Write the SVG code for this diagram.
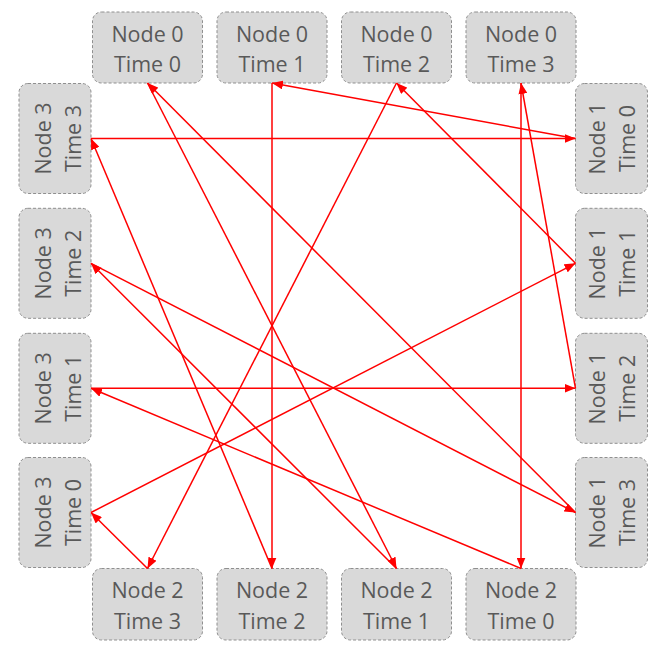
<svg xmlns="http://www.w3.org/2000/svg" width="667" height="669" viewBox="0 0 667 669">
<defs>
<marker id="ah" markerUnits="userSpaceOnUse" markerWidth="12" markerHeight="9" refX="11" refY="4.5" orient="auto">
<path d="M0,0 L11,4.5 L0,9 z" fill="#ff0000"/>
</marker>
<style>
.box{fill:#d9d9d9;stroke:#8f8f8f;stroke-width:1;stroke-dasharray:3 2}
.t{font-family:"Open Sans","Liberation Sans",sans-serif;font-size:21.5px;fill:#595959;text-anchor:middle}
.e{stroke:#ff0000;stroke-width:1.5;fill:none;marker-end:url(#ah)}
</style>
</defs>
<rect width="667" height="669" fill="#ffffff"/>
<g id="n0t0"><rect class="box" x="92.5" y="12" width="110" height="71" rx="9"/><text class="t" x="147.5" y="41.5">Node 0</text><text class="t" x="147.5" y="71.5">Time 0</text></g>
<g id="n0t1"><rect class="box" x="217" y="12" width="110" height="71" rx="9"/><text class="t" x="272" y="41.5">Node 0</text><text class="t" x="272" y="71.5">Time 1</text></g>
<g id="n0t2"><rect class="box" x="341.5" y="12" width="110" height="71" rx="9"/><text class="t" x="396.5" y="41.5">Node 0</text><text class="t" x="396.5" y="71.5">Time 2</text></g>
<g id="n0t3"><rect class="box" x="466" y="12" width="110" height="71" rx="9"/><text class="t" x="521" y="41.5">Node 0</text><text class="t" x="521" y="71.5">Time 3</text></g>
<g id="n2t3"><rect class="box" x="92.5" y="568.5" width="110" height="71.5" rx="9"/><text class="t" x="147.5" y="598">Node 2</text><text class="t" x="147.5" y="629">Time 3</text></g>
<g id="n2t2"><rect class="box" x="217" y="568.5" width="110" height="71.5" rx="9"/><text class="t" x="272" y="598">Node 2</text><text class="t" x="272" y="629">Time 2</text></g>
<g id="n2t1"><rect class="box" x="341.5" y="568.5" width="110" height="71.5" rx="9"/><text class="t" x="396.5" y="598">Node 2</text><text class="t" x="396.5" y="629">Time 1</text></g>
<g id="n2t0"><rect class="box" x="466" y="568.5" width="110" height="71.5" rx="9"/><text class="t" x="521" y="598">Node 2</text><text class="t" x="521" y="629">Time 0</text></g>
<g id="n3t3"><rect class="box" x="19" y="83.5" width="72" height="110" rx="9"/><text class="t" transform="translate(50.5,138.5) rotate(-90)">Node 3</text><text class="t" transform="translate(81,138.5) rotate(-90)">Time 3</text></g>
<g id="n3t2"><rect class="box" x="19" y="208.3" width="72" height="110" rx="9"/><text class="t" transform="translate(50.5,263.3) rotate(-90)">Node 3</text><text class="t" transform="translate(81,263.3) rotate(-90)">Time 2</text></g>
<g id="n3t1"><rect class="box" x="19" y="333.3" width="72" height="110" rx="9"/><text class="t" transform="translate(50.5,388.3) rotate(-90)">Node 3</text><text class="t" transform="translate(81,388.3) rotate(-90)">Time 1</text></g>
<g id="n3t0"><rect class="box" x="19" y="457.5" width="72" height="110" rx="9"/><text class="t" transform="translate(50.5,512.5) rotate(-90)">Node 3</text><text class="t" transform="translate(81,512.5) rotate(-90)">Time 0</text></g>
<g id="n1t0"><rect class="box" x="575.5" y="83.5" width="72" height="110" rx="9"/><text class="t" transform="translate(605,138.5) rotate(-90)">Node 1</text><text class="t" transform="translate(635,138.5) rotate(-90)">Time 0</text></g>
<g id="n1t1"><rect class="box" x="575.5" y="208.3" width="72" height="110" rx="9"/><text class="t" transform="translate(605,263.3) rotate(-90)">Node 1</text><text class="t" transform="translate(635,263.3) rotate(-90)">Time 1</text></g>
<g id="n1t2"><rect class="box" x="575.5" y="333.3" width="72" height="110" rx="9"/><text class="t" transform="translate(605,388.3) rotate(-90)">Node 1</text><text class="t" transform="translate(635,388.3) rotate(-90)">Time 2</text></g>
<g id="n1t3"><rect class="box" x="575.5" y="457.5" width="72" height="110" rx="9"/><text class="t" transform="translate(605,512.5) rotate(-90)">Node 1</text><text class="t" transform="translate(635,512.5) rotate(-90)">Time 3</text></g>
<g id="connectors">
<line class="e" x1="272" y1="83" x2="272" y2="568.5"/>
<line class="e" x1="272" y1="568.5" x2="91" y2="138.5"/>
<line class="e" x1="91" y1="138.5" x2="575.5" y2="138.5"/>
<line class="e" x1="575.5" y1="138.5" x2="272" y2="83"/>
<line class="e" x1="147.5" y1="83" x2="396.5" y2="568.5"/>
<line class="e" x1="396.5" y1="568.5" x2="91" y2="263.3"/>
<line class="e" x1="91" y1="263.3" x2="575.5" y2="512.5"/>
<line class="e" x1="575.5" y1="512.5" x2="147.5" y2="83"/>
<line class="e" x1="396.5" y1="83" x2="147.5" y2="568.5"/>
<line class="e" x1="147.5" y1="568.5" x2="91" y2="512.5"/>
<line class="e" x1="91" y1="512.5" x2="575.5" y2="263.3"/>
<line class="e" x1="575.5" y1="263.3" x2="396.5" y2="83"/>
<line class="e" x1="521" y1="83" x2="521" y2="568.5"/>
<line class="e" x1="521" y1="568.5" x2="91" y2="388.3"/>
<line class="e" x1="91" y1="388.3" x2="575.5" y2="388.3"/>
<line class="e" x1="575.5" y1="388.3" x2="521" y2="83"/>
</g>
</svg>
